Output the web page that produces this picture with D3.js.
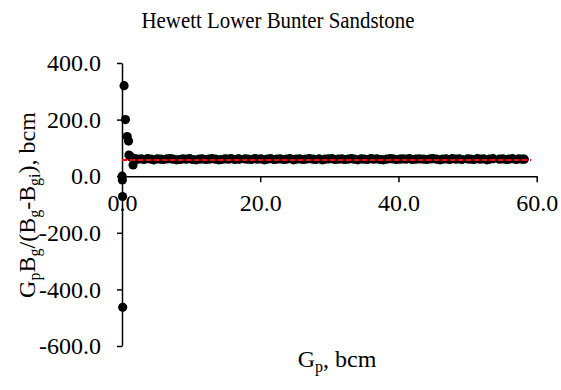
<!DOCTYPE html>
<html>
<head>
<meta charset="utf-8">
<script src="https://cdn.jsdelivr.net/npm/d3@7"></script>
<style>
  html, body { margin: 0; padding: 0; background: #fff; }
  svg text { font-family: "Liberation Serif", "Times New Roman", serif !important; fill: #000; }
</style>
</head>
<body>
<svg id="chart" width="561" height="390"></svg>
<script>
// Cumulative gas production Gp (bcm)
const gp = [
  0.02, 0.05, 0.08, 0.10, 0.30, 0.50, 0.75, 0.95, 1.00, 1.30, 1.60, 1.85,
  2.3, 2.8, 3.2, 3.7, 4.2, 4.6, 5.1, 5.6, 6.0, 6.5,
  7.0, 7.4, 7.9, 8.4, 8.8, 9.3, 9.8, 10.2, 10.7, 11.2,
  11.6, 12.1, 12.6, 13.0, 13.5, 14.0, 14.4, 14.9, 15.4, 15.8,
  16.3, 16.8, 17.0,
  17.8, 18.2, 18.7, 19.2, 19.6, 20.1, 20.6, 21.0, 21.5, 22.0,
  22.4, 22.9, 23.4, 23.8, 24.3, 24.8, 25.2, 25.7, 26.2, 26.6,
  27.1, 27.6, 28.0, 28.5, 29.0, 29.4, 29.9, 30.4, 30.8, 31.3,
  31.8, 32.2, 32.7, 33.2, 33.6, 34.1, 34.6, 35.0, 35.5, 36.0,
  36.4, 36.9, 37.4, 37.8, 38.3, 38.8, 39.2, 39.7, 40.2, 40.6,
  41.1, 41.6, 42.0, 42.5, 43.0,
  43.6, 44.1, 44.6, 45.0, 45.5, 46.0, 46.4, 46.9, 47.4, 47.8, 48.3, 48.8, 49.2,
  50.0, 50.4, 50.9, 51.4, 51.8, 52.3, 52.8, 53.2, 53.7,
  54.6, 55.1, 55.6, 56.0, 56.5, 57.0, 57.4, 57.9, 58.2
];

// GpBg/(Bg-Bgi) (bcm) for each production point
const ratio = [
  0, -13, -72, -463, 320, 200, 140, 124, 75, 68, 40, 62,
  60, 61, 59, 62, 60, 58, 61, 60, 59, 61,
  62, 60, 58, 59, 61, 60, 62, 59, 58, 60,
  61, 59, 60, 62, 60, 58, 59, 61, 60, 62,
  59, 61, 60,
  61, 60, 59, 62, 60, 61, 58, 60, 62, 59,
  60, 61, 59, 60, 62, 58, 60, 61, 59, 60,
  62, 60, 59, 61, 58, 60, 61, 62, 59, 60,
  61, 59, 60, 62, 60, 58, 61, 60, 59, 62,
  60, 61, 59, 58, 60, 62, 61, 59, 60, 61,
  60, 62, 59, 60, 61,
  60, 59, 61, 62, 60, 58, 60, 61, 59, 62, 60, 61, 59,
  61, 60, 59, 62, 60, 61, 58, 60, 62,
  60, 61, 59, 60, 62, 59, 61, 60, 60
];

// Estimated gas initially in place (horizontal reference line)
const giip = 57.5;
const giipRange = [0, 59.2];

const xTicks = [0, 20, 40, 60];
const yTicks = [-600, -400, -200, 0, 200, 400];

const serif = '"Liberation Serif", "Times New Roman", serif';
// One decimal, plain hyphen for negatives
const fmt = d => d3.format(".1f")(d).replace("\u2212", "-");

const svg = d3.select("#chart");
const plotLeft = 122, plotRight = 536.7, plotTop = 63, plotBottom = 346;

const x = d3.scaleLinear().domain([0, 60]).range([plotLeft, plotRight]);
const y = d3.scaleLinear().domain([-600, 400]).range([plotBottom, plotTop]);

// Title (slightly condensed)
svg.append("text")
  .attr("transform", "translate(278,28) scale(0.87,1)")
  .attr("text-anchor", "middle")
  .style("font-family", serif)
  .style("font-size", "24px")
  .text("Hewett Lower Bunter Sandstone");

// Y axis on x = 0
const yAxis = svg.append("g")
  .attr("transform", `translate(${x(0)},0)`)
  .call(d3.axisLeft(y).tickValues(yTicks).tickFormat(fmt).tickSize(5).tickPadding(16).tickSizeOuter(0));

// X axis on y = 0
const xAxis = svg.append("g")
  .attr("transform", `translate(0,${y(0)})`)
  .call(d3.axisBottom(x).tickValues(xTicks).tickFormat(fmt).tickSize(6).tickPadding(12).tickSizeOuter(0));

[xAxis, yAxis].forEach(g => {
  g.attr("font-family", null).attr("font-size", null);
  g.select(".domain").attr("stroke", "#000").attr("stroke-width", 1.5);
  g.selectAll(".tick line").attr("stroke", "#000").attr("stroke-width", 1.5);
  g.selectAll(".tick text")
    .style("font-family", serif)
    .style("font-size", "24px")
    .attr("fill", "#000");
});

// Data points
const pts = d3.range(Math.min(gp.length, ratio.length)).map(i => ({ g: gp[i], r: ratio[i] }));
svg.append("g").selectAll("circle")
  .data(pts)
  .join("circle")
  .attr("cx", d => x(d.g))
  .attr("cy", d => y(d.r))
  .attr("r", 4.6)
  .attr("fill", "#000");

// GIIP reference line
svg.append("line")
  .attr("x1", x(giipRange[0])).attr("x2", x(giipRange[1]))
  .attr("y1", y(giip)).attr("y2", y(giip))
  .attr("stroke", "#ff0000")
  .attr("stroke-width", 2)
  .attr("stroke-dasharray", "5,3");

// X axis title
const xt = svg.append("text")
  .attr("x", 337).attr("y", 367)
  .attr("text-anchor", "middle")
  .style("font-family", serif)
  .style("font-size", "24px");
xt.append("tspan").text("G");
xt.append("tspan").style("font-size", "16px").attr("dy", 5).text("p");
xt.append("tspan").attr("dy", -5).text(", bcm");

// Y axis title
const yt = svg.append("text")
  .attr("transform", "translate(35,205) rotate(-90)")
  .attr("text-anchor", "middle")
  .style("font-family", serif)
  .style("font-size", "24px");
const sub = (t) => { yt.append("tspan").style("font-size", "16px").attr("dy", 5).text(t); };
const norm = (t) => { yt.append("tspan").attr("dy", -5).text(t); };
yt.append("tspan").text("G");
sub("p"); norm("B"); sub("g"); norm("/(B"); sub("g"); norm("-B"); sub("gi"); norm("), bcm");
</script>
</body>
</html>
